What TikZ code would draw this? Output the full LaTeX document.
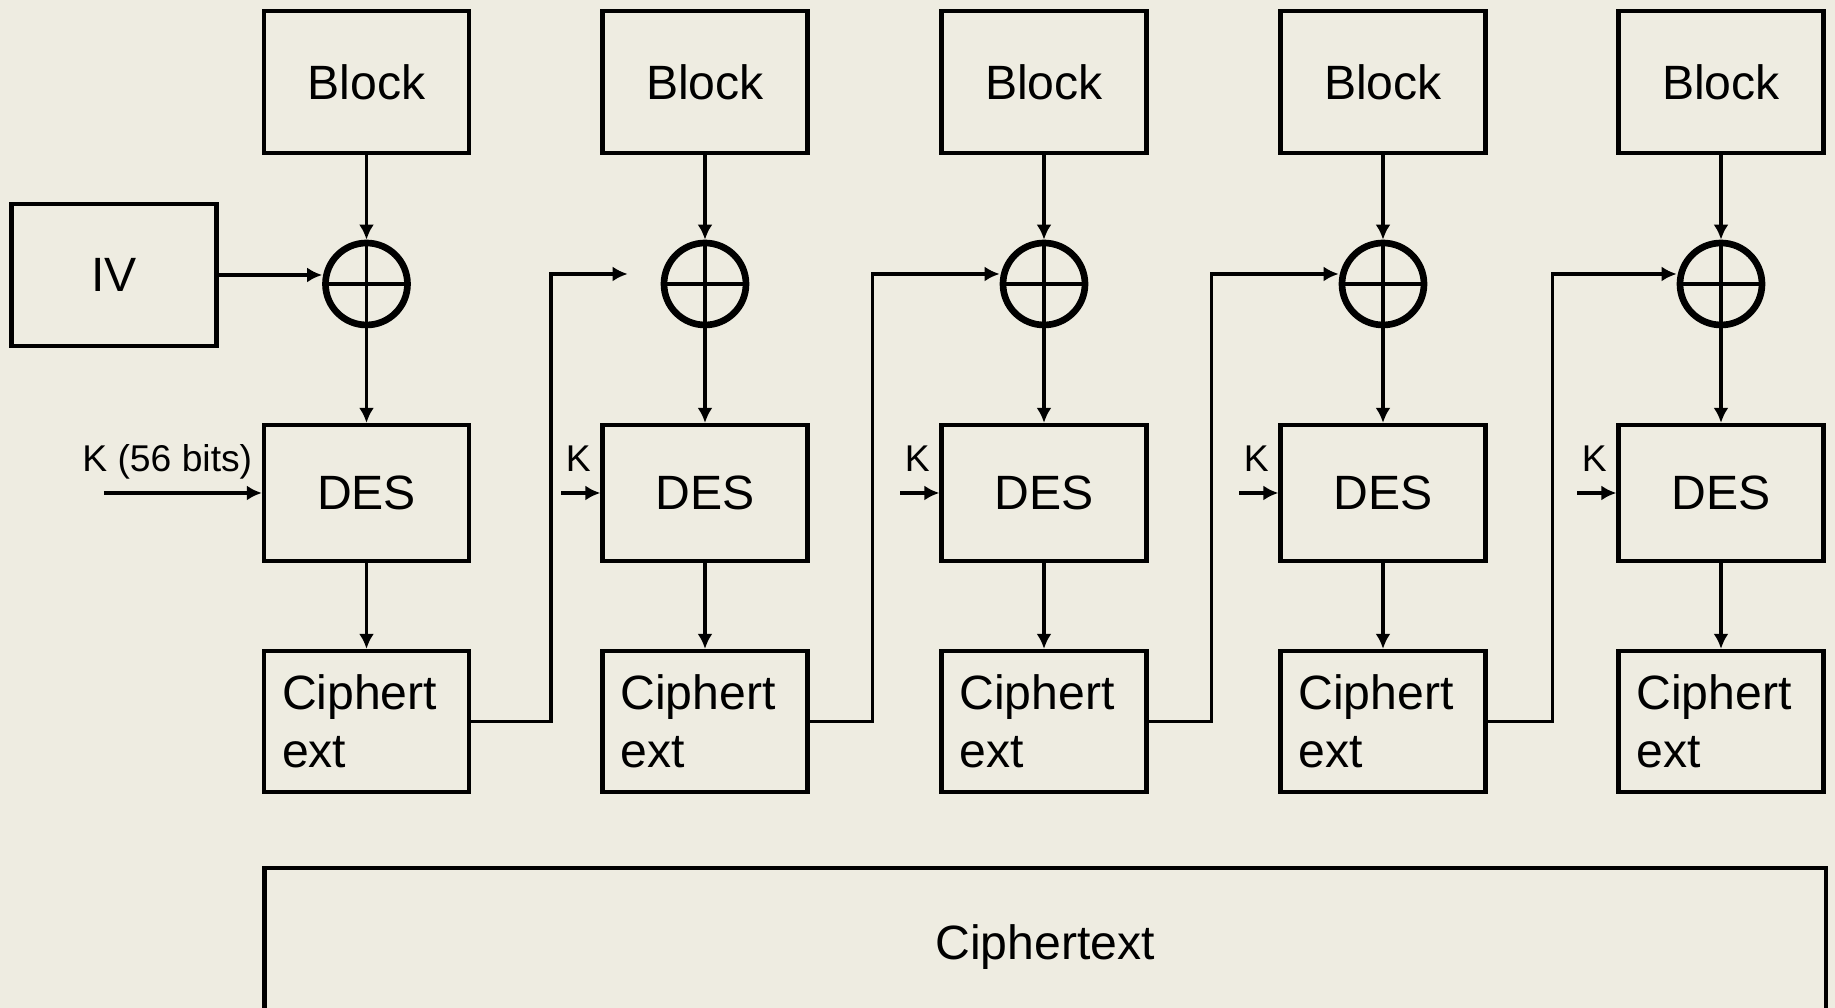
\documentclass[tikz,border=0pt]{standalone}
\usepackage{fontspec}
\setmainfont{Liberation Sans}
\usetikzlibrary{positioning,arrows.meta}
\definecolor{paper}{HTML}{EEECE1}

\begin{document}
\begin{tikzpicture}[
    box/.style={draw, line width=1.2pt, minimum width=2.05cm, minimum height=1.42cm, inner sep=0pt, font=\fontsize{13.7}{16.5}\selectfont},
    xor/.style={draw, circle, line width=1.9pt, minimum size=0.82cm, inner sep=0pt},
    wire/.style={line width=1pt, -{Latex[length=4.3pt,width=4.3pt]}},
    keylbl/.style={font=\fontsize{10.6}{12}\selectfont, inner sep=0pt, anchor=base east}
  ]
  \fill[paper] (0,0) rectangle (18.35,10.08);
  \useasboundingbox (0,0) rectangle (18.35,10.08);
  \clip (0,0) rectangle (18.35,10.08);

  \node[box] (iv) at (1.14,7.33) {IV};

  % one column per block
  \foreach \i/\x in {1/3.665, 2/7.05, 3/10.44, 4/13.83, 5/17.21} {
    \node[box] (blk\i) at (\x,9.26) {Block};
    \node[xor] (x\i) at (\x,7.24) {};
    \draw[line width=1pt] (x\i.west) -- (x\i.east) (x\i.north) -- (x\i.south);
    \node[box, minimum height=1.36cm] (des\i) at (\x,5.15) {DES};
    \node[box, minimum height=1.41cm, text width=1.69cm, align=left] (ct\i) at (\x,2.865) {Ciphert\\ext};
    \draw[wire] (blk\i) -- (x\i);
    \draw[wire] (x\i) -- (des\i);
    \draw[wire] (des\i) -- (ct\i);
  }

  % key inputs
  \coordinate[left=1.58cm of des1.west] (k1);
  \draw[wire] (k1) -- (des1.west);
  \node[keylbl] (kl1) at ([shift={(-0.09,0.21)}]des1.west) {K (56 bits)};
  \foreach \i in {2,...,5} {
    \coordinate[left=0.39cm of des\i.west] (k\i);
    \draw[wire] (k\i) -- (des\i.west);
    \node[keylbl] (kl\i) at ([shift={(-0.09,0.21)}]des\i.west) {K};
  }

  \draw[wire] (iv.east) -- (iv.east -| x1.west);

  % chaining
  \foreach \i/\j/\d/\gap in {1/2/0.8/0.33, 2/3/0.63/0, 3/4/0.63/0, 4/5/0.65/0}
    \draw[wire,shorten >=\gap cm] (ct\i.east) -- ++(\d,0) |- ([yshift=0.1cm]x\j.west);

  \node[box, minimum width=15.61cm, minimum height=1.58cm] (ctall) at (10.451,0.61) {Ciphertext};
\end{tikzpicture}
\end{document}
